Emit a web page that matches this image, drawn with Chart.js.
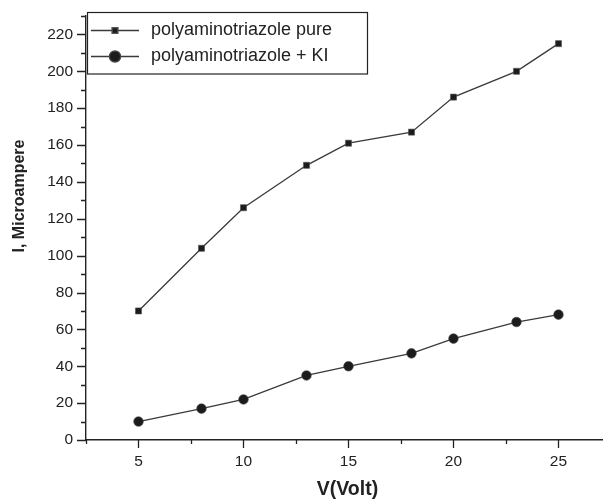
<!DOCTYPE html>
<html><head><meta charset="utf-8">
<script src="https://cdn.jsdelivr.net/npm/chart.js@4.4.1/dist/chart.umd.min.js"></script>
<style>html,body{margin:0;padding:0;background:#fff;}#wrap{width:603px;height:501px;}</style>
</head><body><div id="wrap"><canvas id="c" width="603" height="501"></canvas></div>
<script>
const voltages = [5, 8, 10, 13, 15, 18, 20, 23, 25];
const currentPure = [70, 104, 126, 149, 161, 167, 186, 200, 215];
const currentKI = [10, 17, 22, 35, 40, 47, 55, 64, 68];
const seriesNames = ['polyaminotriazole pure', 'polyaminotriazole + KI'];
const xTickValues = [5, 10, 15, 20, 25];
const xMinorTicks = [2.5, 7.5, 12.5, 17.5, 22.5];
const yTickValues = [0, 20, 40, 60, 80, 100, 120, 140, 160, 180, 200, 220];
const yMinorTicks = [10, 30, 50, 70, 90, 110, 130, 150, 170, 190, 210, 230];
const xTitle = 'V(Volt)';
const yTitle = 'I, Microampere';

const FONT = '"Liberation Sans", Arial, sans-serif';
const INK = '#222';

const toPoints = (ys) => voltages.map((v, i) => ({x: v, y: ys[i]}));
const zeroPad = (s) => { s.paddingTop = 0; s.paddingBottom = 0; s.paddingLeft = 0; s.paddingRight = 0; };

const decor = {
  id: 'decor',
  afterDraw(chart) {
    const ctx = chart.ctx;
    const xs = chart.scales.x, ys = chart.scales.y;
    const ca = chart.chartArea;
    ctx.save();
    ctx.strokeStyle = INK;
    ctx.lineWidth = 1.3;
    ctx.beginPath();
    xTickValues.forEach(v => { const p = Math.round(xs.getPixelForValue(v)) + 0.5; ctx.moveTo(p, ca.bottom); ctx.lineTo(p, ca.bottom + 8); });
    xMinorTicks.forEach(v => { const p = Math.round(xs.getPixelForValue(v)) + 0.5; ctx.moveTo(p, ca.bottom); ctx.lineTo(p, ca.bottom + 4); });
    yTickValues.forEach(v => { const p = Math.round(ys.getPixelForValue(v)) + 0.5; ctx.moveTo(ca.left, p); ctx.lineTo(ca.left - 9, p); });
    yMinorTicks.forEach(v => { const p = Math.round(ys.getPixelForValue(v)) + 0.5; ctx.moveTo(ca.left, p); ctx.lineTo(ca.left - 5, p); });
    ctx.stroke();

    ctx.fillStyle = INK;
    ctx.font = 'bold 19.5px ' + FONT;
    ctx.textAlign = 'center';
    ctx.textBaseline = 'middle';
    ctx.fillText(xTitle, 347.5, 490);
    ctx.save();
    ctx.translate(20, 196);
    ctx.rotate(-Math.PI / 2);
    ctx.font = 'bold 16px ' + FONT;
    ctx.fillText(yTitle, 0, 0);
    ctx.restore();

    const bx = 87.5, by = 12.5, bw = 280, bh = 61.5;
    ctx.fillStyle = '#fff';
    ctx.fillRect(bx, by, bw, bh);
    ctx.strokeStyle = INK;
    ctx.lineWidth = 1.2;
    ctx.strokeRect(bx, by, bw, bh);
    const rows = [30.5, 56.5];
    chart.data.datasets.forEach((ds, i) => {
      const y = rows[i];
      ctx.strokeStyle = ds.borderColor;
      ctx.lineWidth = ds.borderWidth;
      ctx.beginPath(); ctx.moveTo(91, y); ctx.lineTo(139, y); ctx.stroke();
      ctx.fillStyle = ds.pointBackgroundColor;
      ctx.strokeStyle = ds.pointBorderColor;
      Chart.helpers.drawPoint(ctx, {pointStyle: ds.pointStyle, radius: i === 0 ? 4.2 : 5.6, rotation: 0, borderWidth: 1}, 115, y);
      ctx.fillStyle = INK;
      ctx.font = '18px ' + FONT;
      ctx.textAlign = 'left';
      ctx.textBaseline = 'middle';
      ctx.fillText(ds.label, 151, y);
    });
    ctx.restore();
  }
};

new Chart(document.getElementById('c'), {
  type: 'scatter',
  data: {
    datasets: [
      { label: seriesNames[0], data: toPoints(currentPure), showLine: true,
        borderColor: '#3a3a3a', borderWidth: 1.3,
        pointStyle: 'rect', pointRadius: 4.3, pointBackgroundColor: '#1c1c1c', pointBorderColor: '#555', pointBorderWidth: 0.6 },
      { label: seriesNames[1], data: toPoints(currentKI), showLine: true,
        borderColor: '#3a3a3a', borderWidth: 1.3,
        pointStyle: 'circle', pointRadius: 4.8, pointBackgroundColor: '#1c1c1c', pointBorderColor: '#444', pointBorderWidth: 0.6 }
    ]
  },
  options: {
    responsive: false, animation: false, devicePixelRatio: 1,
    layout: { autoPadding: false, padding: { top: 16, right: 0, left: 0, bottom: 0 } },
    plugins: { legend: { display: false }, tooltip: { enabled: false } },
    scales: {
      x: {
        type: 'linear', min: 2.5, max: 27.12,
        afterFit(s) { s.height = 61; zeroPad(s); },
        afterBuildTicks(s) { s.ticks = xTickValues.map(v => ({value: v})); },
        grid: { display: false, drawTicks: false },
        border: { display: true, color: INK, width: 1.4 },
        ticks: { padding: 12, color: INK, font: { family: FONT, size: 15.5 }, maxRotation: 0, autoSkip: false }
      },
      y: {
        type: 'linear', min: 0, max: 230,
        afterFit(s) { s.width = 86; zeroPad(s); },
        afterBuildTicks(s) { s.ticks = yTickValues.map(v => ({value: v})); },
        grid: { display: false, drawTicks: false },
        border: { display: true, color: INK, width: 1.4 },
        ticks: { padding: 13, color: INK, font: { family: FONT, size: 15.5 }, autoSkip: false }
      }
    }
  },
  plugins: [decor]
});
</script></body></html>
